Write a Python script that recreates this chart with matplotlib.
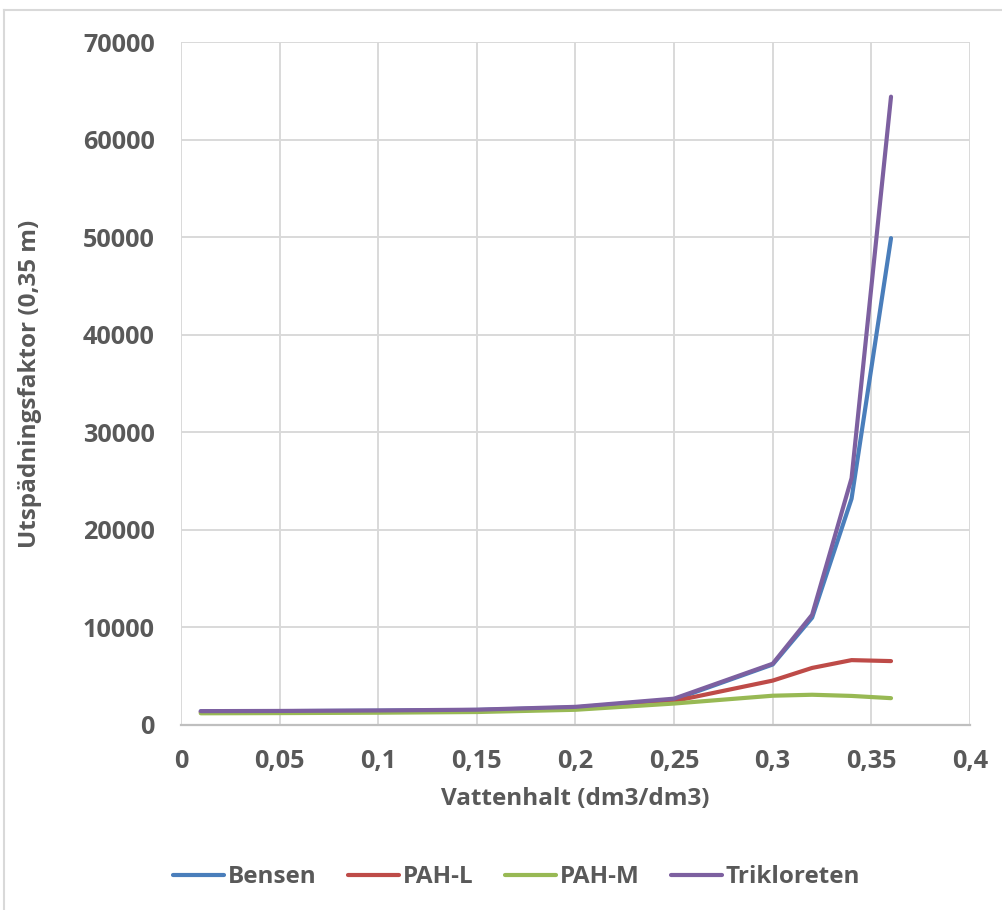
import matplotlib
matplotlib.use("Agg")
import matplotlib.pyplot as plt
from matplotlib.ticker import FuncFormatter, MultipleLocator
from matplotlib.lines import Line2D

# Water content (dm3/dm3)
vattenhalt = [0.01, 0.05, 0.1, 0.15, 0.2, 0.25, 0.3, 0.32, 0.34, 0.36]

# Dilution factor at 0.35 m depth
bensen = [1400, 1420, 1460, 1540, 1800, 2600, 6200, 11000, 23200, 49900]
pah_l = [1300, 1320, 1350, 1420, 1650, 2450, 4550, 5850, 6650, 6550]
pah_m = [1200, 1220, 1260, 1330, 1560, 2200, 3000, 3100, 2980, 2750]
trikloreten = [1420, 1440, 1490, 1570, 1860, 2700, 6280, 11300, 25300, 64400]

series_names = ["Bensen", "PAH-L", "PAH-M", "Trikloreten"]
series_values = [bensen, pah_l, pah_m, trikloreten]
series_colors = ["#4a7ebb", "#be4b48", "#98b954", "#7d60a0"]

text_color = "#595959"
font = "Open Sans"
fs = 17.5
tick_fs = 18.2

plt.rcParams["font.family"] = [font, "DejaVu Sans"]
plt.rcParams["font.weight"] = "bold"

fig = plt.figure(figsize=(10.03, 9.10), dpi=100)
ax = fig.add_axes([0.1805, 0.2033, 0.7865, 0.7505])

for name, vals, col in zip(series_names, series_values, series_colors):
    ax.plot(vattenhalt, vals, color=col, lw=3.0, label=name,
            solid_capstyle="round", solid_joinstyle="round", zorder=3)

ax.set_xlim(0, 0.4)
ax.set_ylim(0, 70000)
ax.xaxis.set_major_locator(MultipleLocator(0.05))
ax.yaxis.set_major_locator(MultipleLocator(10000))


def comma_fmt(v, pos):
    s = f"{v:.2f}".rstrip("0").rstrip(".")
    return s.replace(".", ",")


ax.xaxis.set_major_formatter(FuncFormatter(comma_fmt))
ax.yaxis.set_major_formatter(FuncFormatter(lambda v, p: f"{int(v)}"))

ax.grid(True, color="#d9d9d9", lw=1.4, zorder=0)
for side in ["top", "right", "left"]:
    ax.spines[side].set_visible(False)
ax.spines["bottom"].set_color("#bfbfbf")
ax.spines["bottom"].set_linewidth(1.6)
ax.tick_params(axis="both", length=0, labelsize=tick_fs, labelcolor=text_color)
ax.tick_params(axis="x", pad=17)
ax.tick_params(axis="y", pad=19)
for lbl in ax.get_xticklabels() + ax.get_yticklabels():
    lbl.set_fontweight("bold")

ax.set_xlabel("Vattenhalt (dm3/dm3)", fontsize=fs, color=text_color,
              fontweight="bold", labelpad=10)
ax.set_ylabel("Utspädningsfaktor (0,35 m)", fontsize=fs, color=text_color,
              fontweight="bold")
ax.yaxis.set_label_coords(-0.176, 0.5)

handles = [Line2D([0], [0], color=c, lw=3.0, solid_capstyle="round")
           for c in series_colors]
fig.legend(handles, series_names, loc="center", bbox_to_anchor=(0.515, 0.036),
           ncol=4, frameon=False, labelcolor=text_color,
           handlelength=2.1, handletextpad=0.15, columnspacing=1.3,
           prop={"family": [font, "DejaVu Sans"], "weight": "bold", "size": fs})

# Outer chart border (left and top edges)
fig.add_artist(Line2D([0.004, 0.004], [0.0, 0.989], color="#d9d9d9", lw=1.5,
                      transform=fig.transFigure))
fig.add_artist(Line2D([0.004, 1.0], [0.989, 0.989], color="#d9d9d9", lw=1.5,
                      transform=fig.transFigure))

fig.savefig("out.png", dpi=100, facecolor="white")
